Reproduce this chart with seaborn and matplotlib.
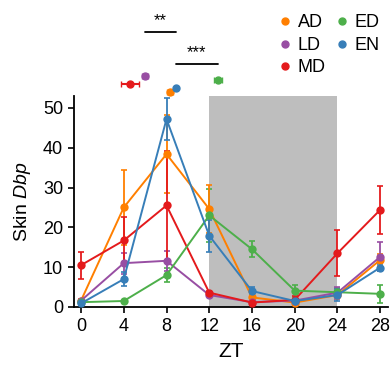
import matplotlib
matplotlib.use("Agg")
import matplotlib.pyplot as plt
import seaborn as sns
import pandas as pd
import numpy as np
from matplotlib.lines import Line2D

zt = [0, 4, 8, 12, 16, 20, 24, 28]
groups = ["AD", "LD", "MD", "ED", "EN"]
colors = {"AD": "#ff7f00", "LD": "#984ea3", "MD": "#e41a1c", "ED": "#4daf4a", "EN": "#377eb8"}

ad_mean = [1.6, 25.0, 38.4, 24.6, 2.4, 1.1, 3.0, 11.8]
ad_err = [0.5, 9.4, 9.8, 6.0, 1.0, 0.3, 0.5, 1.5]
ld_mean = [1.6, 11.0, 11.6, 3.0, 1.2, 1.6, 3.6, 12.6]
ld_err = [0.5, 2.6, 2.5, 0.5, 0.3, 0.5, 1.5, 3.6]
md_mean = [10.5, 16.7, 25.5, 3.6, 1.1, 1.8, 13.5, 24.4]
md_err = [3.4, 5.9, 13.7, 0.5, 0.3, 1.0, 5.8, 6.1]
ed_mean = [1.2, 1.5, 8.0, 23.0, 14.5, 4.1, 3.7, 3.3]
ed_err = [0.3, 0.3, 1.7, 6.6, 2.0, 1.5, 1.0, 2.2]
en_mean = [0.9, 7.0, 47.2, 17.9, 4.0, 1.5, 3.0, 9.9]
en_err = [0.3, 1.8, 5.2, 4.0, 1.1, 0.5, 1.5, 0.8]

# phase estimates (peak time) shown above the plot
phase_group = ["MD", "LD", "AD", "EN", "ED"]
phase_x = [4.6, 6.0, 8.3, 8.9, 12.8]
phase_xerr = [0.85, 0.3, 0.3, 0.1, 0.4]
phase_y = [56.0, 58.0, 54.0, 55.0, 57.0]

means = {"AD": ad_mean, "LD": ld_mean, "MD": md_mean, "ED": ed_mean, "EN": en_mean}
errs = {"AD": ad_err, "LD": ld_err, "MD": md_err, "ED": ed_err, "EN": en_err}

rows = []
for g in groups:
    for t, m, e in zip(zt, means[g], errs[g]):
        rows.append({"ZT": t, "value": m, "err": e, "group": g})
df = pd.DataFrame(rows)

sns.set_style("ticks")
plt.rcParams["font.family"] = ["Liberation Sans", "DejaVu Sans"]
plt.rcParams["mathtext.fontset"] = "custom"
plt.rcParams["mathtext.it"] = "Liberation Sans:italic"
plt.rcParams["mathtext.rm"] = "Liberation Sans"
plt.rcParams["text.color"] = "black"
plt.rcParams["axes.labelcolor"] = "black"
plt.rcParams["xtick.color"] = "black"
plt.rcParams["ytick.color"] = "black"
plt.rcParams["axes.edgecolor"] = "black"

fig = plt.figure(figsize=(3.92, 3.65), dpi=100)
ax = fig.add_axes([0.189, 0.159, 0.80, 0.578])

ax.axvspan(12, 24, color="#bebebe", lw=0, zorder=0)

draw_order = ["ED", "LD", "AD", "EN", "MD"]
for g in draw_order:
    sub = df[df.group == g]
    ax.errorbar(sub.ZT, sub.value, yerr=sub.err, fmt="none", ecolor=colors[g],
                elinewidth=1.3, capsize=2, capthick=1.2, zorder=2)
sns.lineplot(data=df, x="ZT", y="value", hue="group", hue_order=groups,
             palette=colors, marker="o", markersize=6, markeredgewidth=0,
             linewidth=1.4, ax=ax, legend=False, zorder=3)

# phase markers
for g, px, pxe, py in zip(phase_group, phase_x, phase_xerr, phase_y):
    ax.errorbar([px], [py], xerr=[pxe], fmt="o", color=colors[g], ms=5,
                elinewidth=1.5, capsize=2, clip_on=False, zorder=5)

# significance brackets
ax.plot([6.0, 8.9], [69.0, 69.0], color="black", lw=1.3, clip_on=False)
ax.text(7.45, 70.0, "**", ha="center", va="bottom", fontsize=12)
ax.plot([8.9, 12.8], [61.0, 61.0], color="black", lw=1.3, clip_on=False)
ax.text(10.85, 62.0, "***", ha="center", va="bottom", fontsize=12)

ax.set_xlim(-0.65, 28.7)
ax.set_ylim(0, 53)
ax.set_xticks(zt)
ax.set_yticks([0, 10, 20, 30, 40, 50])
ax.tick_params(labelsize=13, width=1.2, length=4, pad=4)
ax.set_xlabel("ZT", fontsize=15, labelpad=5)
ax.set_ylabel("Skin $\\mathit{Dbp}$", fontsize=14, labelpad=7)
sns.despine(ax=ax)
for s in ["left", "bottom"]:
    ax.spines[s].set_linewidth(1.3)

handles = [Line2D([], [], marker="o", ls="none", color=colors[g], ms=5) for g in groups]
fig.legend(handles, groups, loc="upper right", bbox_to_anchor=(1.005, 1.0), ncol=2,
           frameon=False, fontsize=13, handletextpad=0.2, columnspacing=0.4,
           labelspacing=0.3, handlelength=1.0, borderaxespad=0.4)

fig.savefig("out.png", dpi=100)
